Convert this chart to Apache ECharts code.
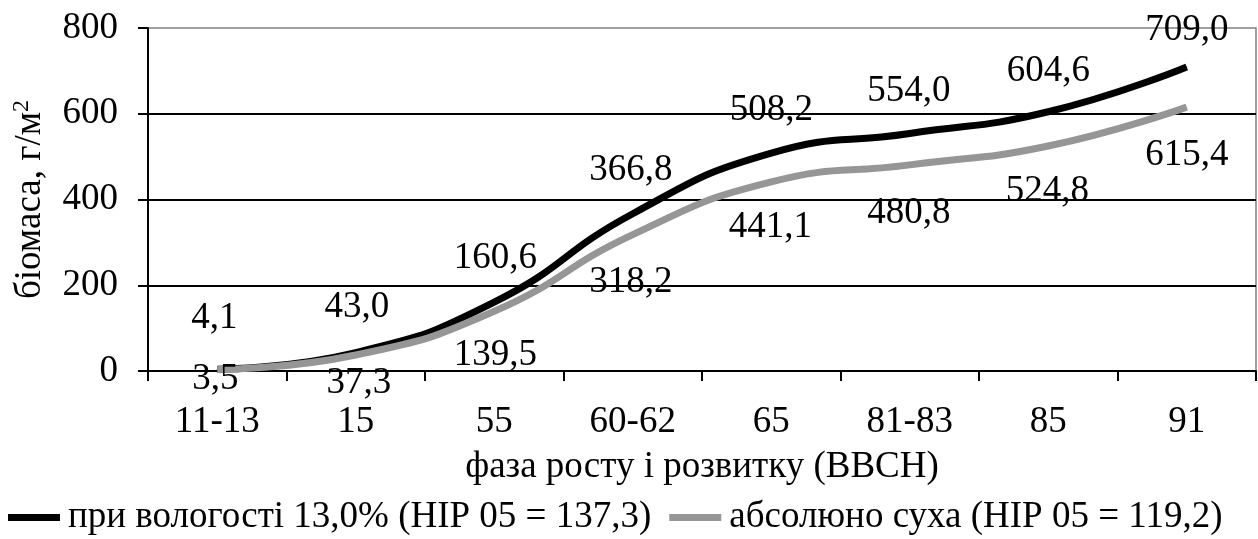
<!DOCTYPE html>
<html>
<head>
<meta charset="utf-8">
<style>
  html, body { margin: 0; padding: 0; background: #fff; }
  #chart { width: 1258px; height: 539px; }
</style>
<script src="https://cdn.jsdelivr.net/npm/echarts@6/dist/echarts.min.js"></script>
</head>
<body>
<div id="chart"></div>
<script>
// Growth phases (BBCH) and biomass, g/m²
const phases = ['11-13', '15', '55', '60-62', '65', '81-83', '85', '91'];
const moist13 = [4.1, 43.0, 160.6, 366.8, 508.2, 554.0, 604.6, 709.0];
const dryMatter = [3.5, 37.3, 139.5, 318.2, 441.1, 480.8, 524.8, 615.4];
const yTicks = [0, 200, 400, 600, 800];
const seriesNames = ['при вологості 13,0% (НІР 05 = 137,3)', 'абсолюно суха (НІР 05 = 119,2)'];

// Label nudges (px) relative to each point
const moistLabelShift = [[-3, -51], [1, -45], [1, -44], [-2, -43], [0, -43], [-1, -42], [0, -40], [0, -37]];
const dryLabelShift = [[-2, 10], [3, 28], [1, 44], [-2, 48], [-1, 45], [-1, 48], [-1, 45], [0, 48]];

const FONT = '"Liberation Serif", "Times New Roman", serif';
const FS = 37;

function withLabels(values, shifts) {
  return values.map((v, i) => ({
    value: v,
    label: { offset: shifts[i] }
  }));
}

const fmt = p => p.value.toFixed(1).replace('.', ',');

const chart = echarts.init(document.getElementById('chart'), null, { renderer: 'canvas' });

chart.setOption({
  animation: false,
  backgroundColor: '#fff',
  textStyle: { fontFamily: FONT, color: '#000' },
  grid: {
    left: 148, right: 2, top: 28, bottom: 168,
    show: true, borderColor: '#808080', borderWidth: 1.5
  },
  legend: {
    left: 3, top: 494,
    icon: 'rect', itemWidth: 52, itemHeight: 7, itemGap: 18,
    textStyle: { fontFamily: FONT, fontSize: FS, color: '#000', padding: [0, 0, 0, 3] },
    data: seriesNames
  },
  xAxis: {
    type: 'category',
    data: phases,
    boundaryGap: true,
    name: 'фаза росту і розвитку (BBCH)',
    nameLocation: 'middle',
    nameGap: 78,
    nameTextStyle: { fontFamily: FONT, fontSize: FS, color: '#000' },
    axisLine: { lineStyle: { color: '#000', width: 2 } },
    axisTick: { show: true, alignWithLabel: false, length: 10, lineStyle: { color: '#000', width: 2 } },
    axisLabel: { fontFamily: FONT, fontSize: FS, color: '#000', margin: 33 },
    splitLine: { show: false }
  },
  yAxis: {
    type: 'value',
    min: yTicks[0], max: yTicks[yTicks.length - 1], interval: yTicks[1] - yTicks[0],
    name: 'біомаса, г/м{sup|2}',
    nameLocation: 'middle',
    nameGap: 98,
    nameRotate: 90,
    nameTextStyle: {
      fontFamily: FONT, fontSize: FS, color: '#000',
      rich: { sup: { fontFamily: FONT, fontSize: 24, color: '#000', verticalAlign: 'top', padding: [0, 0, 16, 0] } }
    },
    axisLine: { show: true, lineStyle: { color: '#000', width: 2 } },
    axisTick: { show: true, length: 10, lineStyle: { color: '#000', width: 2 } },
    axisLabel: { fontFamily: FONT, fontSize: FS, color: '#000', margin: 30 },
    splitLine: { show: true, showMaxLine: false, lineStyle: { color: '#000', width: 2 } }
  },
  series: [
    {
      name: seriesNames[0],
      type: 'line',
      smooth: 0.5,
      data: withLabels(moist13, moistLabelShift),
      symbol: 'circle', symbolSize: 1, showSymbol: true,
      itemStyle: { color: '#000' },
      lineStyle: { color: '#000', width: 7 },
      label: { show: true, position: 'inside', fontFamily: FONT, fontSize: FS, color: '#000', formatter: fmt },
      z: 3
    },
    {
      name: seriesNames[1],
      type: 'line',
      smooth: 0.5,
      data: withLabels(dryMatter, dryLabelShift),
      symbol: 'circle', symbolSize: 1, showSymbol: true,
      itemStyle: { color: '#969696' },
      lineStyle: { color: '#969696', width: 7 },
      label: { show: true, position: 'inside', fontFamily: FONT, fontSize: FS, color: '#000', formatter: fmt },
      z: 4
    }
  ]
});
</script>
</body>
</html>
